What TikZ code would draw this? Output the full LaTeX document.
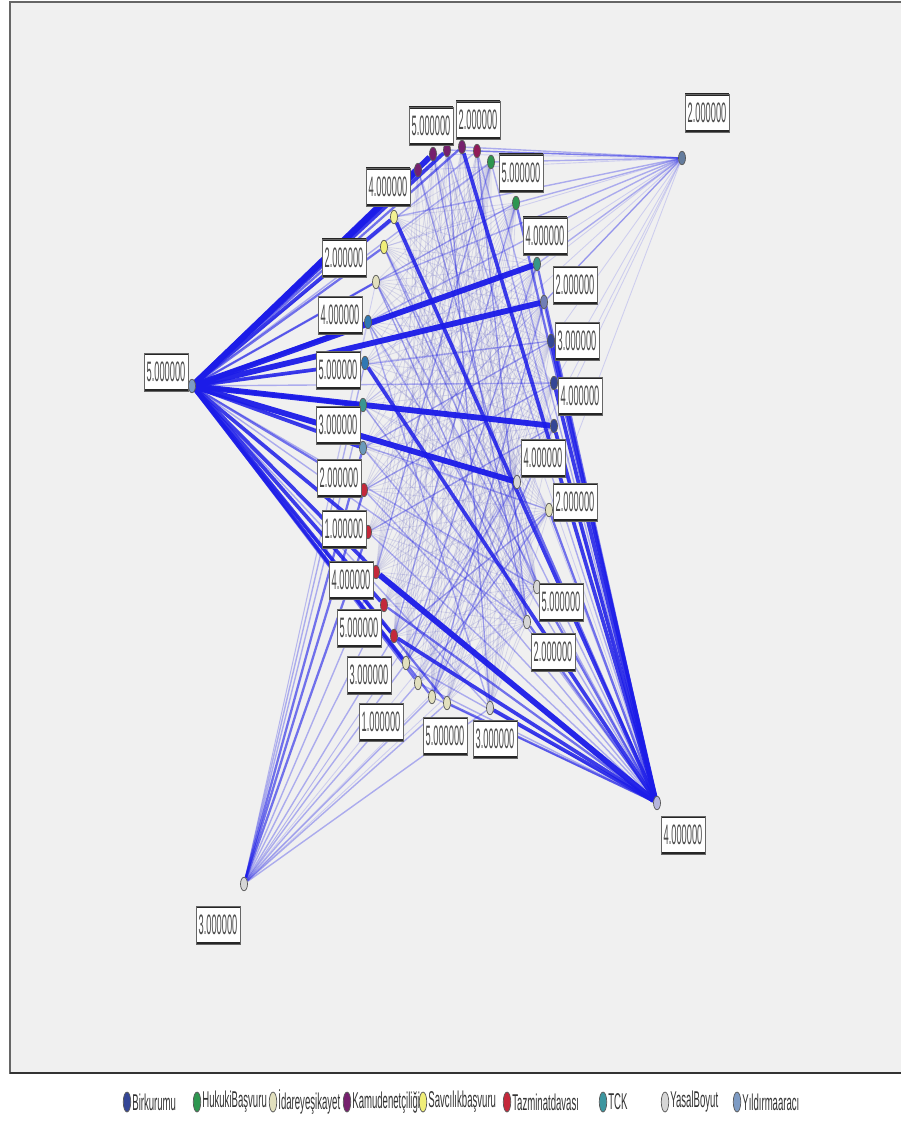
\documentclass[tikz,border=0pt]{standalone}
\usepackage{fontspec}
\setmainfont{Liberation Sans}
\usetikzlibrary{shapes.geometric}
\pgfdeclarelayer{bg}
\pgfdeclarelayer{edges}
\pgfsetlayers{bg,edges,main}

\definecolor{eblue}{RGB}{28,28,232}
\definecolor{latt}{RGB}{115,115,200}
\definecolor{plotbg}{RGB}{240,240,240}
\definecolor{cbir}{RGB}{52,70,150}
\definecolor{chuk}{RGB}{46,150,80}
\definecolor{cida}{RGB}{226,224,190}
\definecolor{ckam}{RGB}{118,32,110}
\definecolor{csav}{RGB}{240,238,120}
\definecolor{ctaz}{RGB}{196,40,58}
\definecolor{ctck}{RGB}{60,150,160}
\definecolor{cyas}{RGB}{214,214,214}
\definecolor{cyil}{RGB}{125,155,196}

\newcommand{\valtext}[1]{\scalebox{0.33}[1]{\fontsize{16}{17}\selectfont #1}}
\newcommand{\legtext}[1]{\scalebox{0.42}[1]{\fontsize{13}{14}\selectfont #1}}

\begin{document}
\begin{tikzpicture}[x=0.02cm,y=-0.02cm,
  dot/.style={ellipse,draw=black!65,line width=0.4pt,minimum width=0.14cm,
              minimum height=0.27cm,inner sep=0pt},
  val/.style={rectangle,fill=white,draw=black!60,line width=0.5pt,
              minimum width=0.88cm,minimum height=0.76cm,inner sep=0pt,
              text=black!70,
              path picture={\draw[line width=2.2pt,black!85]
                 (path picture bounding box.north west) -- (path picture bounding box.north east)
                 (path picture bounding box.south west) -- (path picture bounding box.south east);}},
  e0/.style={draw=latt,line width=0.45pt,opacity=0.22},
  e1/.style={draw=eblue,line width=0.5pt,opacity=0.16},
  e2/.style={draw=eblue,line width=0.8pt,opacity=0.32},
  e3/.style={draw=eblue,line width=1.3pt,opacity=0.6},
  e4/.style={draw=eblue,line width=2.1pt,opacity=0.85},
  e5/.style={draw=eblue,line width=3.3pt,opacity=0.95},
  legdot/.style={ellipse,draw=black!65,line width=0.4pt,minimum width=0.15cm,
              minimum height=0.4cm,inner sep=0pt}]

\useasboundingbox (0,0) rectangle (900,1124);

% plot area
\begin{pgfonlayer}{bg}
  \fill[white] (0,0) rectangle (900,1124);
  \filldraw[fill=plotbg,draw=black!60,line width=0.8pt] (10,2) rectangle (906,1073);
  \draw[black!80,line width=1.6pt] (10,1073) -- (906,1073);
\end{pgfonlayer}

% hubs
\node[dot,fill=cyil] (L)  at (192,386) {};
\node[dot,fill=cyil!80!black] (TR) at (682,158) {};
\node[dot,fill=cyas!85!blue] (BR) at (657,803) {};
\node[dot,fill=cyas] (BL) at (244,884) {};

% arc of category points
\node[dot,fill=ckam] (p1) at (418,170) {};
\node[dot,fill=ckam] (p2) at (433,154) {};
\node[dot,fill=ckam] (p3) at (447,150) {};
\node[dot,fill=ckam] (p4) at (462,147) {};
\node[dot,fill=ckam!80!red] (p5) at (477,151) {};
\node[dot,fill=chuk] (g1) at (491,162) {};
\node[dot,fill=chuk] (g2) at (516,203) {};
\node[dot,fill=ctck!70!chuk] (t0) at (537,264) {};
\node[dot,fill=cbir!70!white] (b1) at (544,302) {};
\node[dot,fill=cbir] (b2) at (551,341) {};
\node[dot,fill=cbir] (b3) at (554,383) {};
\node[dot,fill=cbir] (b4) at (554,426) {};
\node[dot,fill=cyas] (y1) at (517,482) {};
\node[dot,fill=cida] (y2) at (549,510) {};
\node[dot,fill=cyas] (y3) at (537,587) {};
\node[dot,fill=cyas] (y4) at (527,622) {};
\node[dot,fill=cyas] (w1) at (490,708) {};
\node[dot,fill=cida] (w2) at (447,703) {};
\node[dot,fill=cida] (w3) at (432,697) {};
\node[dot,fill=cida] (w4) at (418,683) {};
\node[dot,fill=cida] (w5) at (406,663) {};
\node[dot,fill=ctaz] (r1) at (394,636) {};
\node[dot,fill=ctaz] (r2) at (384,605) {};
\node[dot,fill=ctaz] (r3) at (376,572) {};
\node[dot,fill=ctaz] (r4) at (368,532) {};
\node[dot,fill=ctaz] (r5) at (364,490) {};
\node[dot,fill=cyil!70!ctck] (t1) at (363,448) {};
\node[dot,fill=ctck!80!chuk] (t2) at (363,405) {};
\node[dot,fill=ctck!80!blue] (t3) at (365,363) {};
\node[dot,fill=ctck!80!blue] (t4) at (368,322) {};
\node[dot,fill=cida] (c1) at (376,282) {};
\node[dot,fill=csav] (c2) at (384,247) {};
\node[dot,fill=csav!80!white] (c3) at (394,217) {};

% connectors
\begin{pgfonlayer}{edges}
  % thin web between the two sides of the arc
  \foreach \a in {c1,c2,c3,t4,t3,t2,t1,r5,r4,r3,r2,r1,w5,w4,w3,w2,w1}
    \foreach \b in {g1,g2,t0,b1,b2,b3,b4,y1,y2,y3,y4}
      \draw[e0] (\a) -- (\b);
  \foreach \a in {p1,p2,p3,p4,p5}
    \foreach \b in {w1,w3,w5,y3,y4,r1,r3,y1}
      \draw[e0] (\a) -- (\b);
  % medium links inside the arc
  \foreach \a/\b in {r4/b4,r5/b3,t1/b2,w5/y1,w4/y2,w3/b4,r1/y2,c2/y3,c1/y4,
                     t4/w1,p1/y3,p2/y4,p3/w1,p5/y4,g1/r3,g2/r1,t0/w5,b1/w3}
    \draw[e2] (\a) -- (\b);
  % left hub
  \foreach \b/\s in {p1/e5,p2/e5,p3/e4,p4/e3,p5/e2,g1/e2,g2/e2,c3/e4,c2/e3,c1/e3,
                     t0/e5,b1/e5,b2/e2,b3/e2,t4/e4,t3/e4,t2/e4,b4/e5,t1/e4,y1/e5,
                     r5/e3,r4/e4,r3/e4,r2/e4,r1/e4,w5/e4,w4/e3,w3/e3,w2/e3,w1/e2,
                     y2/e2,y3/e2,y4/e2}
    \draw[\s] (L) -- (\b);
  % lower right hub
  \foreach \b/\s in {b4/e4,b3/e4,b2/e4,b1/e3,t0/e3,g2/e3,g1/e2,p4/e4,c3/e4,t3/e4,
                     y1/e3,y2/e3,y3/e3,y4/e3,p5/e2,p3/e2,r4/e2,r5/e2,t1/e2,t2/e2,
                     t4/e2,c1/e2,c2/e2,w4/e2,w5/e2,p1/e1,p2/e1,
                     r3/e5,r1/e4,w1/e4,w2/e3,w3/e2,r2/e3}
    \draw[\s] (BR) -- (\b);
  % upper right hub
  \foreach \b/\s in {p1/e1,p2/e1,p3/e2,p4/e2,p5/e2,g1/e2,g2/e2,t0/e2,b1/e2,b2/e1,
                     b3/e1,b4/e1,c3/e2,c2/e1,c1/e2,t4/e2,t3/e1,t2/e1,y1/e1,y2/e1,
                     r5/e1,t1/e1}
    \draw[\s] (TR) -- (\b);
  % lower left hub
  \foreach \b/\s in {t1/e3,t2/e2,t3/e2,r5/e3,r4/e3,r3/e2,r2/e2,r1/e2,w5/e2,w4/e2,
                     w3/e2,w2/e2,w1/e2,y3/e1,y4/e1,y1/e1,y2/e1,c1/e1,b4/e1,t4/e1}
    \draw[\s] (BL) -- (\b);
\end{pgfonlayer}

% value labels
\node[val] (lL)  at (166,372) {\valtext{5.000000}};
\node[val] (lTR) at (707,113) {\valtext{2.000000}};
\node[val] (lBR) at (683,835) {\valtext{4.000000}};
\node[val] (lBL) at (218,925) {\valtext{3.000000}};
\node[val] (a1)  at (431,126) {\valtext{5.000000}};
\node[val] (a2)  at (478,120) {\valtext{2.000000}};
\node[val] (a3)  at (388,187) {\valtext{4.000000}};
\node[val] (a4)  at (521,173) {\valtext{5.000000}};
\node[val] (a5)  at (344,258) {\valtext{2.000000}};
\node[val] (a6)  at (545,236) {\valtext{4.000000}};
\node[val] (a7)  at (575,285) {\valtext{2.000000}};
\node[val] (a8)  at (340,315) {\valtext{4.000000}};
\node[val] (a9)  at (577,341) {\valtext{3.000000}};
\node[val] (a10) at (338,370) {\valtext{5.000000}};
\node[val] (a11) at (580,396) {\valtext{4.000000}};
\node[val] (a12) at (338,425) {\valtext{3.000000}};
\node[val] (a13) at (543,458) {\valtext{4.000000}};
\node[val] (a14) at (339,478) {\valtext{2.000000}};
\node[val] (a15) at (575,502) {\valtext{2.000000}};
\node[val] (a16) at (344,529) {\valtext{1.000000}};
\node[val] (a17) at (351,580) {\valtext{4.000000}};
\node[val] (a18) at (561,602) {\valtext{5.000000}};
\node[val] (a19) at (359,628) {\valtext{5.000000}};
\node[val] (a20) at (553,652) {\valtext{2.000000}};
\node[val] (a21) at (369,675) {\valtext{3.000000}};
\node[val] (a22) at (381,722) {\valtext{1.000000}};
\node[val] (a23) at (445,736) {\valtext{5.000000}};
\node[val] (a24) at (495,739) {\valtext{3.000000}};

% legend
\foreach \x/\c/\t [count=\i] in {127/cbir/Birkurumu,197/chuk/HukukiBaşvuru,
    273/cida/İdareyeşikayet,347/ckam/Kamudenetçiliği,423/csav/Savcılıkbaşvuru,
    507/ctaz/Tazminatdavası,603/ctck/TCK,665/cyas/YasalBoyut,737/cyil/Yıldırmaaracı}
{
  \node[legdot,fill=\c] (k\i) at (\x,1102) {};
  \node[anchor=west,inner sep=0pt,text=black!80] (kt\i) at (\x+5,1102) {\legtext{\t}};
}
\end{tikzpicture}
\end{document}
